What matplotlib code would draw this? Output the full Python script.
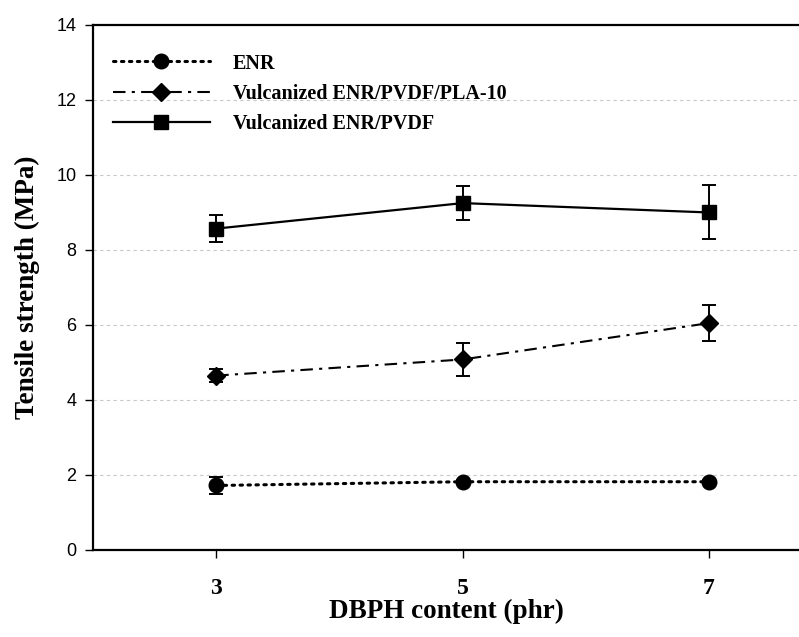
import matplotlib
matplotlib.use("Agg")
import matplotlib.pyplot as plt
from matplotlib.lines import Line2D

dbph = [3, 5, 7]

enr = [1.72, 1.82, 1.82]
enr_err = [0.22, 0.05, 0.05]

pla = [4.65, 5.08, 6.05]
pla_err = [0.17, 0.45, 0.48]

pvdf = [8.57, 9.25, 9.0]
pvdf_err = [0.36, 0.45, 0.72]

yticks = [0, 2, 4, 6, 8, 10, 12, 14]

serif = "Liberation Serif"
sans = "Liberation Sans"

fig = plt.figure(figsize=(7.99, 6.37), dpi=100)
ax = fig.add_axes([0.1164, 0.1366, 0.8836, 0.8242])

for y in yticks[1:-1]:
    ax.axhline(y, color="#c8c8c8", lw=0.8, ls=(0, (3, 3)), zorder=0)

styles = [
    dict(ls=(0, (0.8, 1.8)), lw=2.2, marker="o", ms=10.5, dash_capstyle="round"),
    dict(ls=(0, (6, 3, 1.5, 3)), lw=1.5, marker="D", ms=9),
    dict(ls="-", lw=1.6, marker="s", ms=10),
]
labels = ["ENR", "Vulcanized ENR/PVDF/PLA-10", "Vulcanized ENR/PVDF"]
series = [(enr, enr_err), (pla, pla_err), (pvdf, pvdf_err)]

handles = []
for (vals, errs), st, lab in zip(series, styles, labels):
    ax.errorbar(dbph, vals, yerr=errs, color="black", capsize=5, elinewidth=1.4,
                capthick=1.4, **st)
    handles.append(Line2D([], [], color="black", label=lab, **st))

ax.set_xlim(2.0, 7.73)
ax.set_ylim(0, 14)
ax.set_xticks(dbph)
ax.set_yticks(yticks)
ax.set_xticklabels([str(x) for x in dbph], fontfamily=serif, fontweight="bold", fontsize=17)
ax.set_yticklabels([str(y) for y in yticks], fontfamily=sans, fontsize=13)
ax.tick_params(axis="x", direction="out", length=6, width=1, pad=14)
ax.tick_params(axis="y", direction="out", length=6, width=1, pad=6)

ax.spines["right"].set_visible(False)
for s in ["left", "top", "bottom"]:
    ax.spines[s].set_linewidth(1.6)

ax.set_xlabel("DBPH content (phr)", fontfamily=serif, fontweight="bold", fontsize=19.5, labelpad=0)
ax.set_ylabel("Tensile strength (MPa)", fontfamily=serif, fontweight="bold", fontsize=19.5, labelpad=12)

ax.legend(handles=handles, loc="upper left", bbox_to_anchor=(0, 0.984), frameon=False,
          handlelength=4.8, handletextpad=1.15, labelspacing=0.5, borderaxespad=0.6,
          prop={"family": serif, "weight": "bold", "size": 14.5})

fig.savefig("out.png", dpi=100)
